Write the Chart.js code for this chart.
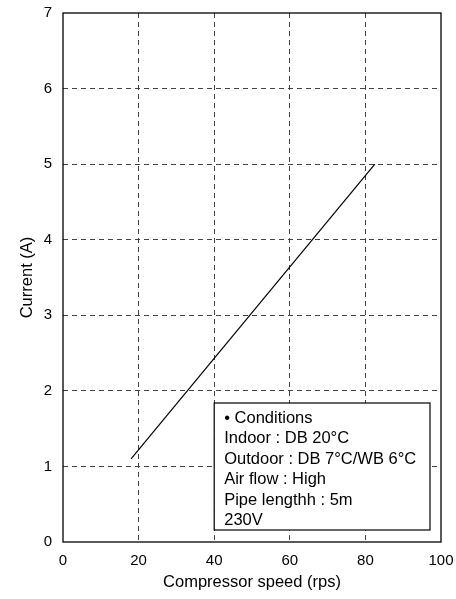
<!DOCTYPE html>
<html>
<head>
<meta charset="utf-8">
<script src="https://cdn.jsdelivr.net/npm/chart.js@4/dist/chart.umd.min.js"></script>
<style>
  html, body { margin: 0; padding: 0; background: #fff; }
  #wrap { width: 456px; height: 599px; }
</style>
</head>
<body>
<div id="wrap"><canvas id="currentChart" width="456" height="599"></canvas></div>
<script>
// Current draw vs. compressor speed
const speedRps = [18, 82.5];
const currentA = [1.1, 5.0];
const xTicks = [0, 20, 40, 60, 80, 100];
const yTicks = [0, 1, 2, 3, 4, 5, 6, 7];
const conditionLines = [
  '\u2022 Conditions',
  'Indoor : DB 20\u00b0C',
  'Outdoor : DB 7\u00b0C/WB 6\u00b0C',
  'Air flow : High',
  'Pipe lengthh : 5m',
  '230V'
];

const FONT = 'Liberation Sans, Arial, Helvetica, sans-serif';

// frame around the whole plot area (top/right edges included)
const frameBox = {
  id: 'frameBox',
  afterDraw(chart) {
    const { ctx, chartArea: a } = chart;
    ctx.save();
    ctx.strokeStyle = '#000';
    ctx.lineWidth = 1.3;
    ctx.strokeRect(a.left, a.top, a.right - a.left, a.bottom - a.top);
    ctx.restore();
  }
};

// white box listing the test conditions
const conditionsBox = {
  id: 'conditionsBox',
  afterDatasetsDraw(chart) {
    const { ctx, chartArea: a, scales } = chart;
    const left = scales.x.getPixelForValue(40);
    const right = a.right - 11;
    const top = 403;
    const bottom = a.bottom - 12;
    ctx.save();
    ctx.fillStyle = '#fff';
    ctx.fillRect(left, top, right - left, bottom - top);
    ctx.strokeStyle = '#000';
    ctx.lineWidth = 1.2;
    ctx.strokeRect(left, top, right - left, bottom - top);
    ctx.fillStyle = '#000';
    ctx.font = '16.5px ' + FONT;
    ctx.textBaseline = 'middle';
    conditionLines.forEach((t, i) => {
      ctx.fillText(t, left + 10, top + 15 + i * 20.5);
    });
    ctx.restore();
  }
};

new Chart(document.getElementById('currentChart'), {
  type: 'scatter',
  data: {
    datasets: [{
      data: speedRps.map((x, i) => ({ x: x, y: currentA[i] })),
      showLine: true,
      borderColor: '#000',
      borderWidth: 1.2,
      pointRadius: 0,
      fill: false
    }]
  },
  options: {
    responsive: false,
    animation: false,
    layout: { padding: { left: 0, top: 13, right: 15, bottom: 0 } },
    plugins: { legend: { display: false }, tooltip: { enabled: false } },
    scales: {
      x: {
        type: 'linear',
        min: 0,
        max: 100,
        afterFit(scale) {
          scale.height = 57;
          scale.paddingLeft = 0;
          scale.paddingRight = 0;
        },
        afterBuildTicks(scale) { scale.ticks = xTicks.map(v => ({ value: v })); },
        grid: {
          drawTicks: false,
          color: ctx => (ctx.tick && (ctx.tick.value === 0 || ctx.tick.value === 100)) ? 'rgba(0,0,0,0)' : '#444',
          lineWidth: 1
        },
        border: { display: false, dash: [5, 4] },
        ticks: { color: '#000', padding: 10, font: { family: FONT, size: 15 } },
        title: {
          display: true,
          text: 'Compressor speed (rps)',
          color: '#000',
          font: { family: FONT, size: 16.5 },
          padding: { top: 0, bottom: 7 }
        }
      },
      y: {
        type: 'linear',
        min: 0,
        max: 7,
        afterFit(scale) {
          scale.width = 63;
          scale.paddingTop = 0;
          scale.paddingBottom = 0;
        },
        afterBuildTicks(scale) { scale.ticks = yTicks.map(v => ({ value: v })); },
        grid: {
          drawTicks: false,
          color: ctx => (ctx.tick && (ctx.tick.value === 0 || ctx.tick.value === 7)) ? 'rgba(0,0,0,0)' : '#444',
          lineWidth: 1
        },
        border: { display: false, dash: [5, 4] },
        ticks: { color: '#000', padding: 11, font: { family: FONT, size: 15 } },
        title: {
          display: true,
          text: 'Current (A)',
          color: '#000',
          font: { family: FONT, size: 16.5 },
          padding: { top: 18, bottom: 0 }
        }
      }
    }
  },
  plugins: [frameBox, conditionsBox]
});
</script>
</body>
</html>
